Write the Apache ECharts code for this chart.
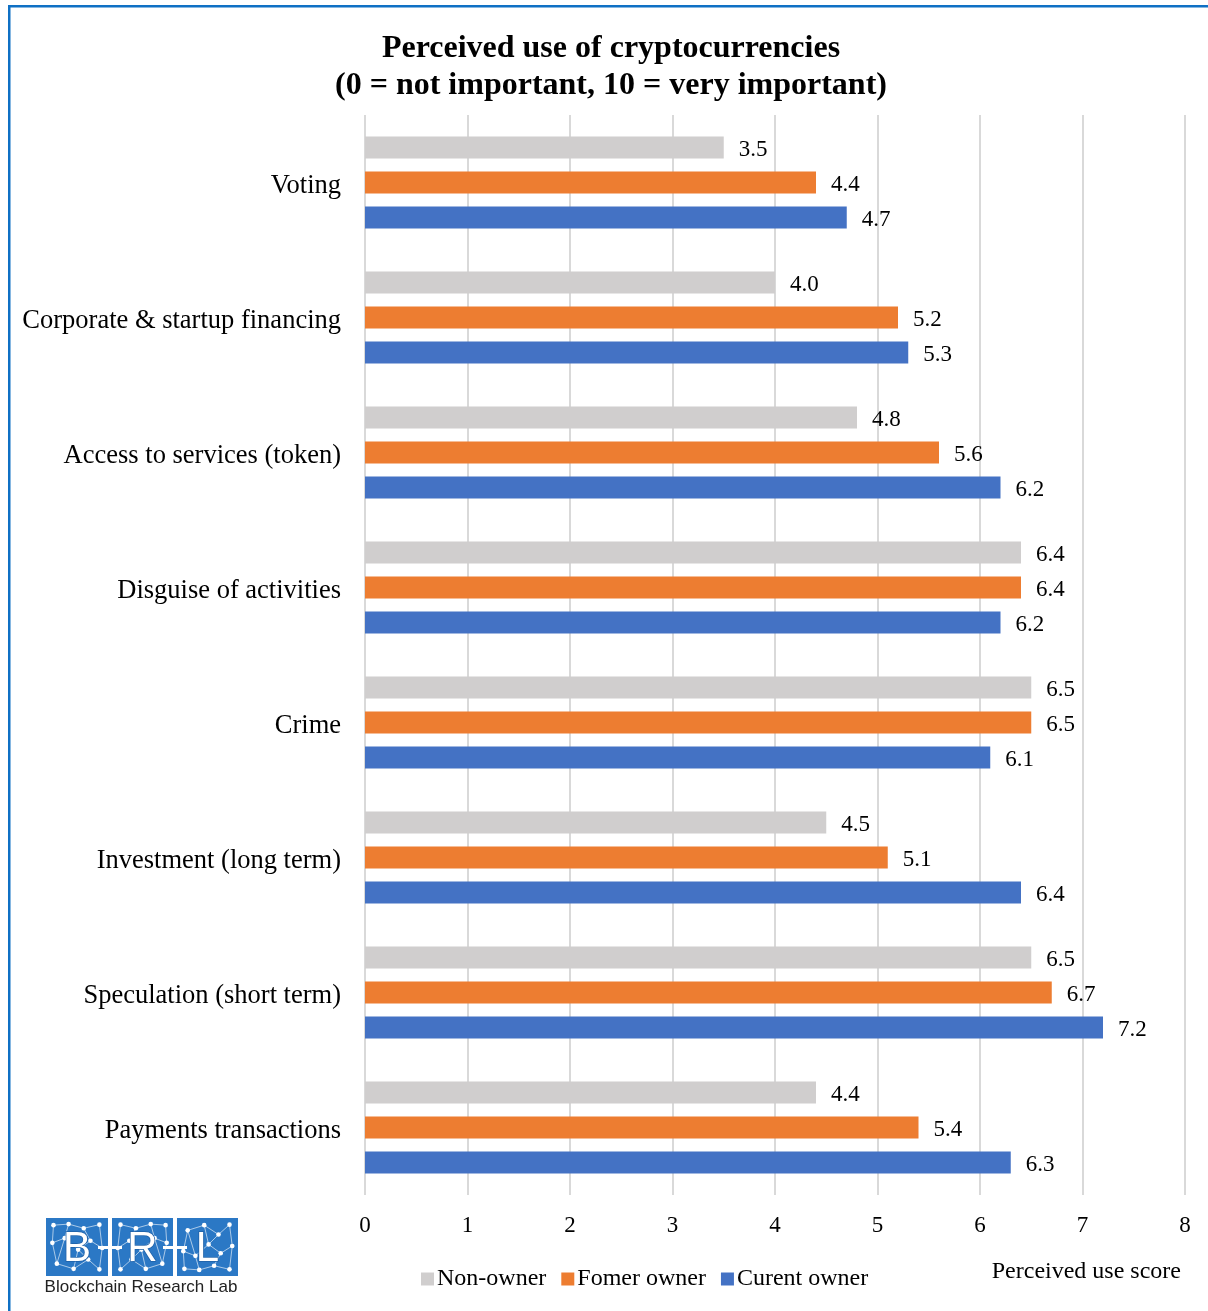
<!DOCTYPE html>
<html>
<head>
<meta charset="utf-8">
<script src="https://cdn.jsdelivr.net/npm/echarts@6/dist/echarts.min.js"></script>
<style>
  html, body { margin: 0; padding: 0; background: #fff; }
  #chart { width: 1208px; height: 1311px; }
</style>
</head>
<body>
<div id="chart"></div>
<script>
// Survey categories, top to bottom
const categories = [
  'Voting',
  'Corporate & startup financing',
  'Access to services (token)',
  'Disguise of activities',
  'Crime',
  'Investment (long term)',
  'Speculation (short term)',
  'Payments transactions'
];

// Mean perceived-use scores per respondent group
const nonOwner     = [3.5, 4.0, 4.8, 6.4, 6.5, 4.5, 6.5, 4.4];
const formerOwner  = [4.4, 5.2, 5.6, 6.4, 6.5, 5.1, 6.7, 5.4];
const currentOwner = [4.7, 5.3, 6.2, 6.2, 6.1, 6.4, 7.2, 6.3];

const seriesNames = ['Non-owner', 'Fomer owner', 'Curent owner'];
const seriesColors = ['#d0cece', '#ed7d31', '#4472c4'];

// Value axis ticks
const xMin = 0, xMax = 8, xStep = 1;

const SERIF = '"Liberation Serif", "Times New Roman", serif';
const SANS = '"Liberation Sans", Arial, sans-serif';

const chart = echarts.init(document.getElementById('chart'), null, { renderer: 'canvas' });

function barSeries(name, data, color) {
  return {
    name: name,
    type: 'bar',
    data: data,
    barWidth: 22,
    barGap: '59%',
    itemStyle: { color: color },
    label: {
      show: true,
      position: 'right',
      distance: 15,
      offset: [0, 2],
      fontFamily: SERIF,
      fontSize: 23,
      color: '#000',
      formatter: p => Number(p.value).toFixed(1)
    },
    emphasis: { disabled: true },
    animation: false
  };
}

// BRL logo: three blue tiles with a white node network and letters
function logoElements() {
  const els = [];
  const tiles = [
    { x: 46, w: 62, letter: 'B' },
    { x: 112, w: 61, letter: 'R' },
    { x: 177, w: 61, letter: 'L' }
  ];
  const ty = 1218, th = 58;
  const pts = [
    [0.08, 0.08], [0.35, 0.06], [0.62, 0.14], [0.9, 0.07],
    [0.06, 0.42], [0.28, 0.33], [0.74, 0.38], [0.95, 0.52],
    [0.14, 0.82], [0.44, 0.92], [0.7, 0.74], [0.9, 0.93], [0.52, 0.55]
  ];
  const edges = [
    [0, 1], [1, 2], [2, 3], [0, 4], [1, 5], [4, 5], [5, 12], [2, 6], [3, 7],
    [6, 7], [6, 12], [4, 8], [8, 9], [9, 10], [10, 11], [7, 11], [12, 10], [5, 8], [12, 9]
  ];
  tiles.forEach((t, i) => {
    els.push({ type: 'rect', shape: { x: t.x, y: ty, width: t.w, height: th }, style: { fill: '#2b78c5' } });
    const P = pts.map(p => {
      const px = (i === 1) ? 1 - p[0] : p[0];
      const py = (i === 2) ? 1 - p[1] : p[1];
      return [t.x + 3 + px * (t.w - 6), ty + 3 + py * (th - 6)];
    });
    edges.forEach(e => {
      els.push({ type: 'line', shape: { x1: P[e[0]][0], y1: P[e[0]][1], x2: P[e[1]][0], y2: P[e[1]][1] },
        style: { stroke: 'rgba(255,255,255,0.6)', lineWidth: 1 } });
    });
    P.forEach(p => {
      els.push({ type: 'circle', shape: { cx: p[0], cy: p[1], r: 2.3 }, style: { fill: '#fff' } });
    });
  });
  // dashes linking the letters
  els.push({ type: 'rect', shape: { x: 98, y: 1246, width: 24, height: 3 }, style: { fill: '#fff' } });
  els.push({ type: 'rect', shape: { x: 163, y: 1246, width: 24, height: 3 }, style: { fill: '#fff' } });
  tiles.forEach(t => {
    els.push({ type: 'text', style: {
      x: t.x + t.w / 2, y: ty + th / 2 + 2, text: t.letter, align: 'center', verticalAlign: 'middle',
      fontFamily: SANS, fontSize: 42, fill: '#fff', stroke: '#1d5fa6', lineWidth: 1.5
    } });
  });
  els.push({ type: 'text', style: {
    x: 141, y: 1287, text: 'Blockchain Research Lab', align: 'center', verticalAlign: 'middle',
    fontFamily: SANS, fontSize: 17, fill: '#222'
  } });
  return els;
}

const option = {
  backgroundColor: '#fff',
  animation: false,
  title: {
    text: 'Perceived use of cryptocurrencies\n(0 = not important, 10 = very important)',
    left: 606,
    textAlign: 'center',
    top: 25,
    textStyle: {
      fontFamily: SERIF,
      fontWeight: 'bold',
      fontSize: 32,
      lineHeight: 37,
      color: '#000'
    }
  },
  legend: {
    data: seriesNames,
    left: 416,
    top: 1262,
    itemWidth: 13,
    itemHeight: 13,
    itemGap: 15,
    icon: 'rect',
    textStyle: { fontFamily: SERIF, fontSize: 24, color: '#000', padding: [0, 0, 0, -2] },
    selectedMode: false
  },
  grid: { left: 365, right: 23, top: 115, bottom: 116, containLabel: false },
  xAxis: {
    type: 'value',
    min: xMin,
    max: xMax,
    interval: xStep,
    axisLine: { show: false },
    axisTick: { show: false },
    splitLine: { show: true, lineStyle: { color: '#d9d9d9', width: 2 } },
    axisLabel: { margin: 19, fontFamily: SERIF, fontSize: 23, color: '#000' }
  },
  yAxis: {
    type: 'category',
    data: categories,
    inverse: true,
    axisLine: { show: false },
    axisTick: { show: false },
    axisLabel: {
      margin: 24,
      formatter: v => '{c|' + v + '}',
      rich: {
        c: { fontFamily: SERIF, fontSize: 26.5, color: '#000', padding: [8, 0, 0, 0] }
      }
    }
  },
  series: [
    barSeries(seriesNames[0], nonOwner, seriesColors[0]),
    barSeries(seriesNames[1], formerOwner, seriesColors[1]),
    barSeries(seriesNames[2], currentOwner, seriesColors[2])
  ],
  graphic: [
    // frame edges
    { type: 'rect', shape: { x: 8, y: 5, width: 1200, height: 2.5 }, style: { fill: '#0f70c4' }, silent: true },
    { type: 'rect', shape: { x: 8, y: 5, width: 2.5, height: 1306 }, style: { fill: '#0f70c4' }, silent: true },
    // value-axis caption
    { type: 'text', style: {
      x: 1181, y: 1272, text: 'Perceived use score', align: 'right', verticalAlign: 'middle',
      fontFamily: SERIF, fontSize: 24, fill: '#000'
    } }
  ].concat(logoElements())
};

chart.setOption(option);
</script>
</body>
</html>
